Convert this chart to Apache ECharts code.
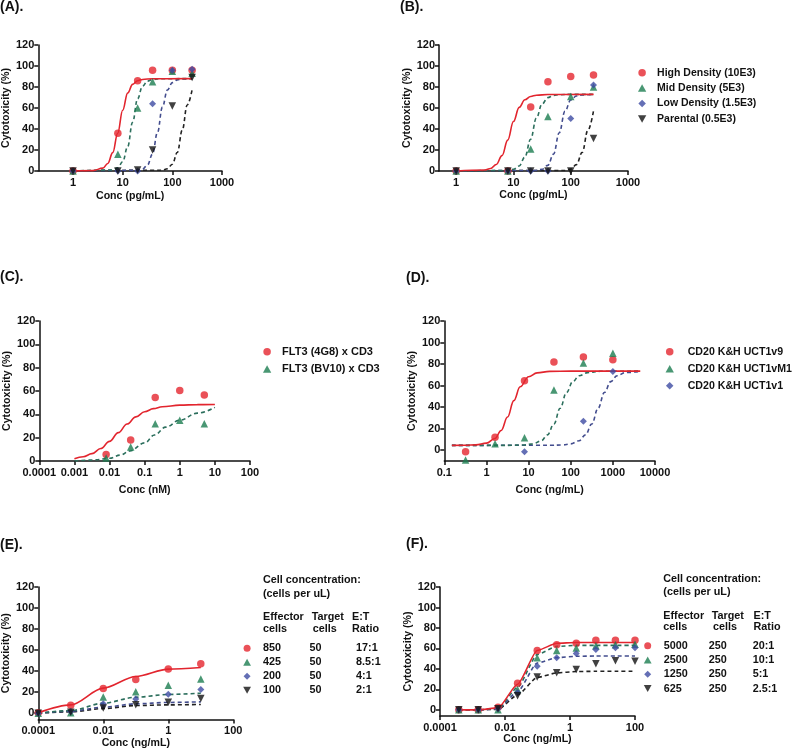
<!DOCTYPE html>
<html><head><meta charset="utf-8">
<script src="https://cdn.jsdelivr.net/npm/echarts@6/dist/echarts.min.js"></script>
<style>html,body{margin:0;padding:0;background:#fff}#c{width:800px;height:750px}</style>
</head><body><div id="c"></div>
<script>
// ---------- DATA ----------
// Panel A / B (pg/mL)
const concAB = [1, 8, 20, 40, 100, 250];
const redA = [0, 36, 86, 96, 96, 96];
const greenA = [0, 16, 60, 85, 95, 93];
const blueA = [0, 0, 0, 64, 96, 97];
const blackA = [0, 0, 1, 20, 62, 89];
const redB = [0, 0, 61, 85, 90, 91.5];
const greenB = [0, 0, 21, 52, 71, 80];
const blueB = [0, 0, 0, 0, 50, 82];
const blackB = [0, 0, 0, 0, 0, 31];
const namesB = ['High Density (10E3)', 'Mid Density (5E3)', 'Low Density (1.5E3)', 'Parental (0.5E3)'];
// fitted curves (x in log10 conc)
const fitA_red_L = [0, 0.4, 0.6, 0.7, 0.8, 0.9, 1.0, 1.1, 1.2, 1.3, 1.4, 1.6, 2.4];
const fitA_red_y = [0, 0.4, 2.7, 7.2, 17.5, 36, 57.9, 74.2, 82.5, 86, 87.2, 87.9, 88];
const fitA_green_L = [0, 0.8, 0.9, 1.0, 1.1, 1.2, 1.3, 1.4, 1.5, 1.6, 1.8, 2.4];
const fitA_green_y = [0, 1.0, 3.0, 8.9, 23, 46.5, 68.7, 80.8, 85.6, 87.2, 87.9, 88];
const fitA_blue_L = [0, 1.3, 1.4, 1.5, 1.6, 1.7, 1.8, 1.9, 2.0, 2.1, 2.2, 2.4];
const fitA_blue_y = [0, 0.6, 1.9, 5.8, 16.1, 36.5, 60.8, 77.1, 84.2, 86.8, 87.6, 88];
const fitA_black_L = [0, 1.8, 1.9, 2.0, 2.1, 2.2, 2.3, 2.4];
const fitA_black_y = [0, 0.7, 2.2, 6.5, 17.6, 39, 62.9, 78];
const fitB_red_L = [0, 0.5, 0.6, 0.7, 0.8, 0.9, 1.0, 1.1, 1.2, 1.3, 1.4, 1.6, 2.4];
const fitB_red_y = [0, 0.9, 2.4, 6.2, 14.6, 29.4, 47.1, 60.6, 67.8, 71, 72.2, 72.8, 73];
const fitB_green_L = [0, 0.9, 1.0, 1.1, 1.2, 1.3, 1.4, 1.5, 1.6, 1.7, 1.8, 2.0, 2.4];
const fitB_green_y = [0, 0.5, 1.6, 4.8, 13.4, 30.3, 50.4, 63.9, 69.9, 72, 72.6, 73, 73];
const fitB_blue_L = [0, 1.4, 1.5, 1.6, 1.7, 1.8, 1.9, 2.0, 2.1, 2.2, 2.4];
const fitB_blue_y = [0, 0.5, 1.6, 5.4, 16.1, 36.5, 56.9, 67.6, 71.4, 72.5, 73];
const fitB_black_L = [0, 1.9, 2.0, 2.1, 2.2, 2.3, 2.4];
const fitB_black_y = [0, 0.5, 1.8, 6.1, 17.7, 38.8, 58];
// Panel C (nM)
const concC = [0.008, 0.04, 0.2, 1, 5];
const redC = [5.5, 18, 54.5, 60.5, 56.5];
const greenC = [2.5, 12, 32, 35, 32];
const namesC = ['FLT3 (4G8) x CD3', 'FLT3 (BV10) x CD3'];
const fitC_red_L = [-3, -2.75, -2.5, -2.25, -2, -1.75, -1.5, -1.25, -1, -0.75, -0.5, 0, 0.5, 1];
const fitC_red_y = [1.9, 3.6, 6.3, 10.7, 16.8, 24.3, 31.7, 37.8, 42.2, 44.9, 46.5, 47.9, 48.3, 48.4];
const fitC_green_L = [-3, -2.5, -2, -1.7, -1.42, -1, -0.72, -0.4, 0, 0.5, 1];
const fitC_green_y = [0, 0.8, 2.3, 5, 8.6, 15.5, 22.3, 29, 35, 41, 46];
// Panel D (ng/mL)
const concD = [0.32, 1.6, 8, 40, 200, 1000];
const redD = [-1.5, 12, 64.5, 82, 86.5, 84];
const greenD = [-9, 6, 11.5, 56, 81, 90];
const concDblue = [8, 200, 1000];
const blueD = [-1.5, 27, 73];
const namesD = ['CD20 K&H UCT1v9', 'CD20 K&H UCT1vM1', 'CD20 K&H UCT1v1'];
const fitD_red_L = [-0.82, -0.5, -0.25, 0, 0.2, 0.35, 0.5, 0.65, 0.8, 1.0, 1.2, 1.5, 2, 3.65];
const fitD_red_y = [4.5, 4.6, 5.0, 6.6, 10.9, 18.3, 30.8, 46.1, 58.9, 68.3, 71.8, 73.2, 73.5, 73.5];
const fitD_green_L = [-0.82, 0.5, 0.9, 1.1, 1.3, 1.45, 1.6, 1.75, 1.9, 2.05, 2.2, 2.4, 2.7, 3.65];
const fitD_green_y = [4.5, 4.5, 4.9, 5.9, 8.8, 14.3, 24.4, 39, 53.6, 63.7, 69.2, 72.1, 73.3, 73.5];
const fitD_blue_L = [-0.82, 1.5, 1.8, 2.0, 2.2, 2.35, 2.5, 2.65, 2.8, 2.95, 3.1, 3.3, 3.65];
const fitD_blue_y = [4.5, 4.6, 4.9, 5.9, 8.8, 14.3, 24.4, 39, 53.6, 63.7, 69.2, 72.1, 73.3];
// Panel E (ng/mL)
const concE = [0.0001, 0.001, 0.01, 0.1, 1, 10];
const redE = [0.5, 7.5, 23.5, 32, 42, 47];
const greenE = [0, 0.5, 15.5, 20.5, 26.5, 32.5];
const blueE = [0, 1.5, 9, 13.5, 18, 22.5];
const blackE = [0, 1, 5, 8, 10.5, 14];
const fitE_red = [0.5, 7.9, 23.8, 34.9, 41.9, 43.5];
const fitE_green = [0, 2.5, 9.5, 15.2, 17.8, 19];
const fitE_blue = [0, 1.9, 5.7, 8.9, 10.2, 10.8];
const fitE_black = [0, 1.3, 4.4, 7.3, 7.9, 8.3];
const effectorE = ['850', '425', '200', '100'];
const targetE = ['50', '50', '50', '50'];
const ratioE = ['17:1', '8.5:1', '4:1', '2:1'];
// Panel F (ng/mL)
const concF = [0.00038, 0.0015, 0.0061, 0.0244, 0.098, 0.39, 1.56, 6.25, 25, 100];
const redF = [0, 0, 2.5, 26, 58, 63.5, 65, 68, 68, 68];
const greenF = [0, 0, 0, 20, 51, 58, 60.5, 62.5, 63.5, 64];
const blueF = [0, 0, 1, 17, 42.5, 51, 55, 59, 60.6, 60.6];
const blackF = [0, 0, 1, 13.8, 32, 36.3, 39.4, 45, 48, 47.5];
const fitF_red = [0, 0, 1.9, 25, 58, 65, 65.8, 65.8, 65.8, 65.8];
const fitF_green = [0, 0, 1.3, 22, 54, 62, 63, 63, 63, 63];
const fitF_blue = [0, 0, 1, 17.7, 45.8, 51, 52.3, 52.6, 52.6, 52.6];
const fitF_black = [0, 0, 0.6, 14.5, 31.6, 36.1, 37.4, 37.7, 37.7, 37.7];
const effectorF = ['5000', '2500', '1250', '625'];
const targetF = ['250', '250', '250', '250'];
const ratioF = ['20:1', '10:1', '5:1', '2.5:1'];
// tick labels
const yTicks = [0, 20, 40, 60, 80, 100, 120];
const xTicksAB = [1, 10, 100, 1000];
const xLabelsAB = ['1', '10', '100', '1000'];
const xTicksC = [0.0001, 0.001, 0.01, 0.1, 1, 10, 100];
const xLabelsC = ['0.0001', '0.001', '0.01', '0.1', '1', '10', '100'];
const xTicksD = [0.1, 1, 10, 100, 1000, 10000];
const xLabelsD = ['0.1', '1', '10', '100', '1000', '10000'];
const xTicksEF = [0.0001, 0.01, 1, 100];
const xLabelsEF = ['0.0001', '0.01', '1', '100'];

// ---------- STYLE ----------
const FONT = '"Liberation Sans", Arial, sans-serif';
const INK = '#111111';
const COL = {red: '#e5262e', green: '#1b7d50', blue: '#3d4ba3', black: '#111111'};
const LINE = {red: '#e2252e', green: '#2c6f5d', blue: '#434d8e', black: '#222222'};
const SYM = {red: 'circle', green: 'path://M5,0L10,9L0,9Z', blue: 'path://M5,0L10,5L5,10L0,5Z', black: 'path://M0,0L10,0L5,9Z'};
const SIZE = {red: 7.5, green: 7.5, blue: 7, black: 7.5};

const grids = [
  {left: 33, top: 45, width: 189, height: 126},
  {left: 439, top: 45, width: 189, height: 126},
  {left: 39.3, top: 321, width: 210.7, height: 140},
  {left: 444.3, top: 321, width: 210.7, height: 140},
  {left: 34.3, top: 587, width: 199, height: 133},
  {left: 440, top: 587, width: 195, height: 129}
];

const lg = v => Math.log10(v);
const axisTxt = {fontWeight: 'bold', fontSize: 11, color: INK, fontFamily: FONT};
const nameTxt = {fontWeight: 'bold', fontSize: 10.6, color: INK, fontFamily: FONT};
const lineSt = {color: INK, width: 1.5};

function xAx(gi, min, max, ticks, labels, name, gap) {
  const cv = ticks.map(t => +lg(t).toFixed(6));
  return {
    type: 'value', gridIndex: gi, min: min, max: max, name: name, nameLocation: 'middle', nameGap: gap,
    nameTextStyle: nameTxt,
    axisLine: {onZero: false, lineStyle: lineSt},
    axisTick: {show: true, length: 4, customValues: cv, lineStyle: lineSt},
    axisLabel: Object.assign({customValues: cv, margin: 6, formatter: function (v) {
      const i = cv.findIndex(c => Math.abs(c - v) < 1e-4); return i >= 0 ? labels[i] : '';
    }}, axisTxt),
    splitLine: {show: false}
  };
}
function yAx(gi, min, gap) {
  return {
    type: 'value', gridIndex: gi, min: min, max: 120, name: 'Cytotoxicity (%)', nameLocation: 'middle', nameGap: gap,
    nameTextStyle: nameTxt,
    axisLine: {onZero: false, lineStyle: lineSt},
    axisTick: {show: true, length: 4, customValues: yTicks, lineStyle: lineSt},
    axisLabel: Object.assign({customValues: yTicks, margin: 4}, axisTxt),
    splitLine: {show: false}
  };
}

const series = [];
function scatter(gi, name, key, conc, vals) {
  series.push({type: 'scatter', name: name, xAxisIndex: gi, yAxisIndex: gi, symbol: SYM[key], symbolSize: SIZE[key],
    itemStyle: {color: COL[key]}, z: 5, data: conc.map((c, i) => [lg(c), vals[i]])});
}
function fit(gi, key, logx, vals, smooth) {
  series.push({type: 'line', name: 'fit' + gi + key, xAxisIndex: gi, yAxisIndex: gi, symbol: 'none', showSymbol: false,
    smooth: smooth, smoothMonotone: 'x', silent: true,
    lineStyle: {color: LINE[key], width: 1.6, type: key === 'red' ? 'solid' : [4, 3]}, z: 3,
    data: logx.map((l, i) => [l, vals[i]])});
}

// Panel A
fit(0, 'black', fitA_black_L, fitA_black_y, 0.4);
fit(0, 'blue', fitA_blue_L, fitA_blue_y, 0.4);
fit(0, 'green', fitA_green_L, fitA_green_y, 0.4);
fit(0, 'red', fitA_red_L, fitA_red_y, 0.4);
scatter(0, 'A-red', 'red', concAB, redA);
scatter(0, 'A-green', 'green', concAB, greenA);
scatter(0, 'A-blue', 'blue', concAB, blueA);
scatter(0, 'A-black', 'black', concAB, blackA);
// Panel B
fit(1, 'black', fitB_black_L, fitB_black_y, 0.4);
fit(1, 'blue', fitB_blue_L, fitB_blue_y, 0.4);
fit(1, 'green', fitB_green_L, fitB_green_y, 0.4);
fit(1, 'red', fitB_red_L, fitB_red_y, 0.4);
scatter(1, namesB[0], 'red', concAB, redB);
scatter(1, namesB[1], 'green', concAB, greenB);
scatter(1, namesB[2], 'blue', concAB, blueB);
scatter(1, namesB[3], 'black', concAB, blackB);
// Panel C
fit(2, 'green', fitC_green_L, fitC_green_y, 0.4);
fit(2, 'red', fitC_red_L, fitC_red_y, 0.4);
scatter(2, namesC[0], 'red', concC, redC);
scatter(2, namesC[1], 'green', concC, greenC);
// Panel D
fit(3, 'blue', fitD_blue_L, fitD_blue_y, 0.4);
fit(3, 'green', fitD_green_L, fitD_green_y, 0.4);
fit(3, 'red', fitD_red_L, fitD_red_y, 0.4);
scatter(3, namesD[0], 'red', concD, redD);
scatter(3, namesD[1], 'green', concD, greenD);
scatter(3, namesD[2], 'blue', concDblue, blueD);
// Panel E
const logE = concE.map(lg);
fit(4, 'black', logE, fitE_black, 0.3);
fit(4, 'blue', logE, fitE_blue, 0.3);
fit(4, 'green', logE, fitE_green, 0.3);
fit(4, 'red', logE, fitE_red, 0.3);
scatter(4, effectorE[0], 'red', concE, redE);
scatter(4, effectorE[1], 'green', concE, greenE);
scatter(4, effectorE[2], 'blue', concE, blueE);
scatter(4, effectorE[3], 'black', concE, blackE);
// Panel F
const logF = concF.map(lg);
fit(5, 'black', logF, fitF_black, 0.2);
fit(5, 'blue', logF, fitF_blue, 0.2);
fit(5, 'green', logF, fitF_green, 0.2);
fit(5, 'red', logF, fitF_red, 0.2);
scatter(5, effectorF[0], 'red', concF, redF);
scatter(5, effectorF[1], 'green', concF, greenF);
scatter(5, effectorF[2], 'blue', concF, blueF);
scatter(5, effectorF[3], 'black', concF, blackF);

function legTxt(size) { return {fontSize: size, fontWeight: 'bold', color: INK, fontFamily: FONT, lineHeight: 14}; }
// left is given as the icon centre; the legend box starts at the visible icon edge
function legend(cx, top, gap, iw, ih, names, size, extra) {
  return Object.assign({orient: 'vertical', left: cx - ih / 2, top: top, padding: 0, itemGap: gap, itemWidth: iw, itemHeight: ih,
    selectedMode: false, data: names, textStyle: legTxt(size)}, extra || {});
}
function tableLegend(cx, top, gap, names, targets, ratios, wa, wb) {
  const rs = legTxt(10.8);
  return legend(cx, top, gap, 22, 7, names, 10.8, {
    formatter: function (n) { const i = names.indexOf(n); return '{a|' + n + '}{b|' + targets[i] + '}{c|' + ratios[i] + '}'; },
    textStyle: Object.assign(legTxt(10.8), {rich: {a: Object.assign({width: wa}, rs), b: Object.assign({width: wb}, rs), c: rs}})
  });
}

function txt(x, y, s, size) {
  return {type: 'text', x: x, y: y, silent: true,
    style: {text: s, fill: INK, font: 'bold ' + (size || 10.8) + 'px ' + FONT, align: 'left', verticalAlign: 'middle',
      textAlign: 'left', textVerticalAlign: 'middle'}};
}

const graphics = [
  txt(0, 7, '(A).', 14), txt(400, 7, '(B).', 14), txt(0, 277, '(C).', 14), txt(406, 278, '(D).', 14),
  txt(0, 545, '(E).', 14), txt(406, 544, '(F).', 14),
  txt(263, 580, 'Cell concentration:'), txt(263, 594, '(cells per uL)'),
  txt(263, 616.7, 'Effector'), txt(311.7, 616.7, 'Target'), txt(352, 616.7, 'E:T'),
  txt(263, 629.3, 'cells'), txt(312.7, 629.3, 'cells'), txt(352, 629.3, 'Ratio'),
  txt(663.3, 579, 'Cell concentration:'), txt(663.3, 591.7, '(cells per uL)'),
  txt(663.3, 615.7, 'Effector'), txt(711.7, 615.7, 'Target'), txt(753.5, 615.7, 'E:T'),
  txt(663.3, 627.3, 'cells'), txt(713, 627.3, 'cells'), txt(753.5, 627.3, 'Ratio')
];

const option = {
  animation: false,
  backgroundColor: '#ffffff',
  textStyle: {fontFamily: FONT},
  grid: grids,
  xAxis: [
    xAx(0, -0.7, 3, xTicksAB, xLabelsAB, 'Conc (pg/mL)', 20),
    xAx(1, -0.3, 3, xTicksAB, xLabelsAB, 'Conc (pg/mL)', 18.5),
    xAx(2, -4, 2, xTicksC, xLabelsC, 'Conc (nM)', 23.5),
    xAx(3, -1, 4, xTicksD, xLabelsD, 'Conc (ng/mL)', 23.5),
    xAx(4, -4, 2, xTicksEF, xLabelsEF, 'Conc (ng/mL)', 18.5),
    xAx(5, -4, 2, xTicksEF, xLabelsEF, 'Conc (ng/mL)', 16)
  ],
  yAxis: [yAx(0, 0, 22), yAx(1, 0, 22.7), yAx(2, 0, 26), yAx(3, -10, 26), yAx(4, -6, 24), yAx(5, -6, 23.7)],
  legend: [
    legend(641.7, 65.7, 1.4, 20, 7.5, namesB, 10.5),
    legend(266.7, 344.7, 3.3, 20, 7.5, namesC, 11),
    legend(669.3, 344.7, 3, 26, 7.5, namesD, 10.6),
    tableLegend(246.7, 641.3, 0, effectorE, targetE, ratioE, 46.3, 46.7),
    tableLegend(647.3, 638.7, 0.3, effectorF, targetF, ratioF, 45, 44)
  ],
  graphic: graphics,
  series: series
};
const chart = echarts.init(document.getElementById('c'), null, {renderer: 'canvas'});
chart.setOption(option);
</script>
</body></html>
